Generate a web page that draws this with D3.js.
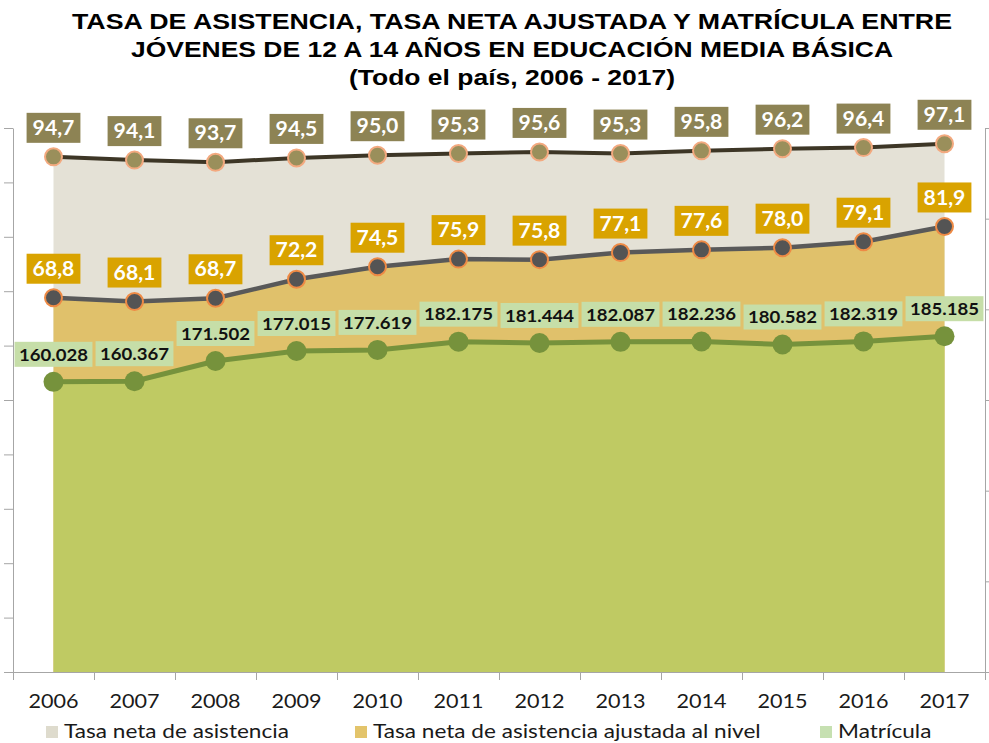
<!DOCTYPE html>
<html lang="es">
<head>
    <meta charset="UTF-8">
    <title>Tasa de asistencia y matrícula</title>
    <script src="https://d3js.org/d3.v7.min.js"></script>
    <style>
        body { margin: 0; background: #fff; }
        svg { display: block; }
        text.title {
            font-family: 'Liberation Sans', Arial, sans-serif;
            font-weight: bold;
            font-size: 22px;
            text-anchor: middle;
            fill: #000;
        }
        .lbl { font-family: Lato, 'Open Sans', sans-serif; font-weight: bold; }
        .tick-label, .legend text { font-family: Lato, 'Open Sans', sans-serif; font-size: 20px; fill: #1a1a1a; }
    </style>
</head>
<body>
<svg width="989" height="743"></svg>
<script>
    // data
    const years = ["2006", "2007", "2008", "2009", "2010", "2011", "2012", "2013", "2014", "2015", "2016", "2017"];
    const tasaNeta = [94.7, 94.1, 93.7, 94.5, 95.0, 95.3, 95.6, 95.3, 95.8, 96.2, 96.4, 97.1];
    const tasaAjustada = [68.8, 68.1, 68.7, 72.2, 74.5, 75.9, 75.8, 77.1, 77.6, 78.0, 79.1, 81.9];
    const matricula = [160028, 160367, 171502, 177015, 177619, 182175, 181444, 182087, 182236, 180582, 182319, 185185];
    const leftTicks = [0, 10, 20, 30, 40, 50, 60, 70, 80, 90, 100];
    const rightTicks = [0, 50000, 100000, 150000, 200000, 250000, 300000];
    const seriesNames = ["Tasa neta de asistencia", "Tasa neta de asistencia ajustada al nivel", "Matrícula"];
    const titleLines = [
        "TASA DE ASISTENCIA, TASA NETA AJUSTADA Y MATRÍCULA ENTRE",
        "JÓVENES DE 12 A 14 AÑOS EN EDUCACIÓN MEDIA BÁSICA",
        "(Todo el país, 2006 - 2017)"
    ];

    const svg = d3.select("svg");
    const plotLeft = 13, plotRight = 985, plotTop = 128, plotBottom = 672;
    const axisColor = "#a6a6a6";
    const stretch = 1.13; // the source picture is a bit wider than tall

    const es = d3.formatLocale({ decimal: ",", thousands: ".", grouping: [3], currency: ["$", ""] });
    const fmtPct = es.format(".1f");
    const fmtNum = es.format(",d");

    // scales
    const x = d3.scaleBand().domain(years).range([plotLeft, plotRight]);
    const cx = d => x(d) + x.bandwidth() / 2;
    const xEdge = d3.scaleLinear().domain([0, years.length]).range([plotLeft, plotRight]);
    const yLeft = d3.scaleLinear().domain([0, 100]).range([plotBottom, plotTop]);
    const yRight = d3.scaleLinear().domain([0, 300000]).range([plotBottom, plotTop]);

    // title, stretched horizontally like the original
    const titleWidths = [880, 762, 326];
    titleLines.forEach((t, i) => {
        svg.append("text").attr("class", "title")
            .attr("x", 512).attr("y", 29 + i * 28)
            .attr("textLength", titleWidths[i])
            .attr("lengthAdjust", "spacingAndGlyphs")
            .text(t);
    });

    // areas
    const area = (vals, y) => d3.area()
        .x((d, i) => cx(years[i]))
        .y0(plotBottom)
        .y1(d => y(d))(vals);

    svg.append("path").attr("d", area(tasaNeta, yLeft)).attr("fill", "#e4e1d6");
    svg.append("path").attr("d", area(tasaAjustada, yLeft)).attr("fill", "#e0c16b");
    svg.append("path").attr("d", area(matricula, yRight)).attr("fill", "#bfca63");

    // axes
    const gL = svg.append("g").attr("transform", `translate(${plotLeft},0)`)
        .call(d3.axisLeft(yLeft).tickValues(leftTicks).tickSize(9).tickSizeOuter(0).tickFormat(""));
    const gR = svg.append("g").attr("transform", `translate(${plotRight},0)`)
        .call(d3.axisRight(yRight).tickValues(rightTicks).tickSize(6).tickSizeOuter(0).tickFormat(""));
    const gB = svg.append("g").attr("transform", `translate(0,${plotBottom})`)
        .call(d3.axisBottom(xEdge).ticks(years.length).tickSize(8).tickSizeOuter(0).tickFormat(""));
    [gL, gR, gB].forEach(g => {
        g.select(".domain").attr("stroke", axisColor);
        g.selectAll(".tick line").attr("stroke", axisColor);
    });

    svg.selectAll(".tick-label").data(years).join("text")
        .attr("class", "tick-label")
        .attr("transform", d => `translate(${cx(d)},708) scale(1.08,1)`)
        .attr("text-anchor", "middle")
        .text(d => d);

    // lines + markers
    function series(vals, y, lineColor, lineW, fill, stroke, r) {
        svg.append("path")
            .attr("d", d3.line().x((d, i) => cx(years[i])).y(d => y(d))(vals))
            .attr("fill", "none").attr("stroke", lineColor).attr("stroke-width", lineW);
        svg.append("g").selectAll("circle").data(vals).join("circle")
            .attr("cx", (d, i) => cx(years[i])).attr("cy", d => y(d)).attr("r", r)
            .attr("fill", fill).attr("stroke", stroke).attr("stroke-width", stroke ? 2 : 0);
    }
    series(tasaNeta, yLeft, "#3d3626", 4, "#9a8f5b", "#f3a97f", 8.5);
    series(tasaAjustada, yLeft, "#595959", 4.5, "#545454", "#ee8a45", 8.5);
    series(matricula, yRight, "#76923c", 5, "#76923c", null, 10);

    // data labels
    function labels(vals, y, fmt, boxFill, textFill, size, padX, h, gap) {
        const g = svg.append("g");
        vals.forEach((v, i) => {
            const px = cx(years[i]), py = y(v);
            const lg = g.append("g");
            const rect = lg.append("rect");
            const t = lg.append("text").attr("class", "lbl")
                .attr("transform", `translate(${px},${py - gap - h / 2}) scale(1.06,1)`)
                .attr("dy", "0.36em")
                .attr("text-anchor", "middle")
                .style("font-size", size + "px")
                .attr("fill", textFill)
                .text(fmt(v));
            const w = t.node().getComputedTextLength() * 1.06 + padX * 2;
            rect.attr("x", px - w / 2).attr("y", py - gap - h).attr("width", w).attr("height", h)
                .attr("fill", boxFill);
        });
    }
    labels(tasaNeta, yLeft, fmtPct, "#8d8354", "#fff", 20, 6, 30, 14);
    labels(tasaAjustada, yLeft, fmtPct, "#d9a300", "#fff", 20, 6, 30, 14);
    labels(matricula, yRight, fmtNum, "#c6dea8", "#111", 17.5, 4.5, 25, 15);

    // legend
    const legendColors = ["#dedbcd", "#e3c46b", "#c6e0b1"];
    const legendX = [46, 355, 820];
    const leg = svg.append("g").attr("class", "legend");
    seriesNames.forEach((name, i) => {
        leg.append("rect").attr("x", legendX[i]).attr("y", 726).attr("width", 12).attr("height", 12)
            .attr("fill", legendColors[i]);
        leg.append("text")
            .attr("transform", `translate(${legendX[i] + 18},738) scale(${stretch},1)`)
            .text(name);
    });
</script>
</body>
</html>
